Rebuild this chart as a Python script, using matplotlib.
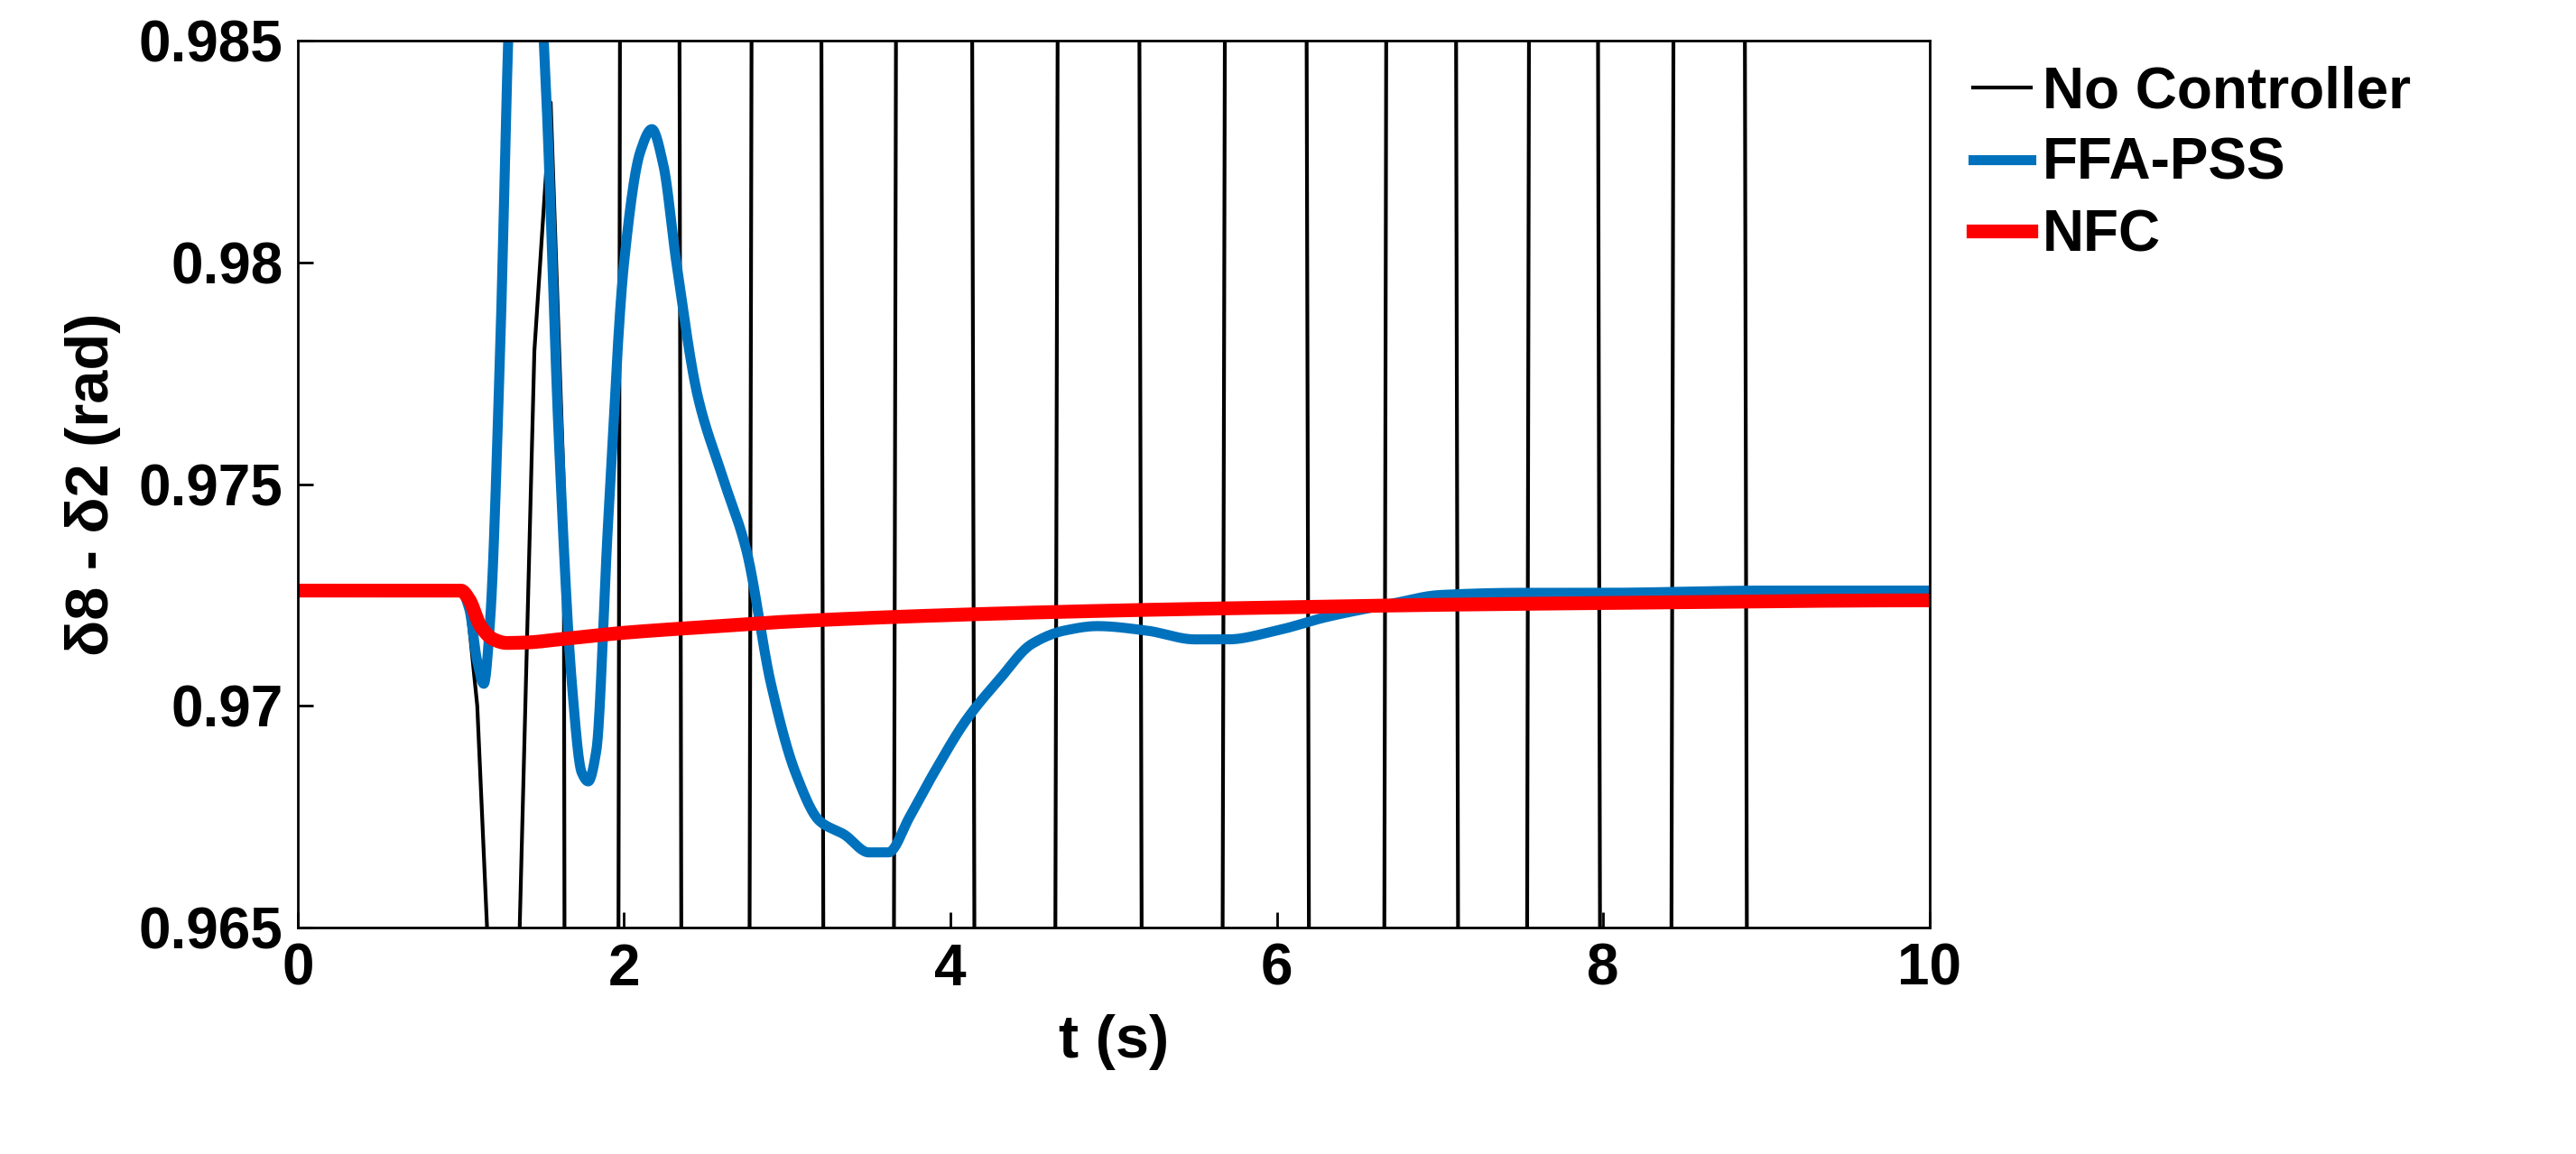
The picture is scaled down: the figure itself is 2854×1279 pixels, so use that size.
import numpy as np
import matplotlib
matplotlib.use("Agg")
import matplotlib.pyplot as plt

# No Controller (extremes; large swings leave the visible range)
nc_t = [0, 1.0, 1.04, 1.10, 1.16, 1.25, 1.34, 1.36, 1.45, 1.55, 1.63, 1.80, 2.14, 2.55, 3.00, 3.43, 3.89, 4.39, 4.91, 5.42, 5.93, 6.45, 6.88, 7.33, 7.75, 8.20, 8.65, 9.1, 10]
nc_v = [0.9726, 0.9726, 0.9722, 0.970, 0.965, 0.90, 0.95, 0.965, 0.978, 0.9836, 0.975, 0.60, 1.35, 0.60, 1.35, 0.60, 1.35, 0.60, 1.35, 0.60, 1.35, 0.60, 1.35, 0.60, 1.35, 0.60, 1.35, 0.60, 0.60]

# FFA-PSS
ffa_t = [0, 1.0, 1.05, 1.10, 1.14, 1.18, 1.24, 1.30, 1.38, 1.46, 1.52, 1.60, 1.68, 1.74, 1.78, 1.83, 1.90, 2.00, 2.10, 2.17, 2.24, 2.32, 2.45, 2.60, 2.75, 2.90, 3.05, 3.20, 3.35, 3.50, 3.62, 3.75, 3.90, 4.10, 4.30, 4.50, 4.70, 4.90, 5.20, 5.50, 5.70, 6.00, 6.30, 6.70, 7.00, 7.50, 8.00, 9.00, 10]
ffa_v = [0.9726, 0.9726, 0.9722, 0.9710, 0.9705, 0.9720, 0.978, 0.986, 0.990, 0.988, 0.984, 0.976, 0.9705, 0.9685, 0.9683, 0.9690, 0.9740, 0.9800, 0.9825, 0.9830, 0.9822, 0.9800, 0.9770, 0.9752, 0.9735, 0.9705, 0.9685, 0.9674, 0.9671, 0.9667, 0.9667, 0.9675, 0.9685, 0.9697, 0.9706, 0.9714, 0.9717, 0.9718, 0.9717, 0.9715, 0.9715, 0.9717, 0.9720, 0.9723, 0.9725, 0.97255, 0.97255, 0.9726, 0.9726]

# NFC
nfc_t = [0, 1.0, 1.05, 1.12, 1.20, 1.28, 1.40, 1.60, 2.0, 2.5, 3.0, 4.0, 5.0, 6.0, 7.0, 8.0, 10]
nfc_v = [0.9726, 0.9726, 0.9724, 0.9718, 0.9715, 0.97142, 0.97143, 0.97150, 0.97165, 0.97178, 0.97190, 0.97205, 0.97215, 0.97222, 0.97228, 0.97232, 0.97238]

def smooth(t, v, n=4000):
    # monotone cubic (PCHIP-like) through the read points
    t = np.asarray(t, float); v = np.asarray(v, float)
    h = np.diff(t); d = np.diff(v) / h
    m = np.zeros_like(v)
    for k in range(1, len(v) - 1):
        if d[k-1] * d[k] > 0:
            w1 = 2*h[k] + h[k-1]; w2 = h[k] + 2*h[k-1]
            m[k] = (w1 + w2) / (w1 / d[k-1] + w2 / d[k])
    x = np.linspace(t[0], t[-1], n)
    idx = np.clip(np.searchsorted(t, x) - 1, 0, len(t) - 2)
    hh = t[idx + 1] - t[idx]
    s = (x - t[idx]) / hh
    h00 = 2*s**3 - 3*s**2 + 1; h10 = s**3 - 2*s**2 + s
    h01 = -2*s**3 + 3*s**2; h11 = s**3 - s**2
    y = h00*v[idx] + h10*hh*m[idx] + h01*v[idx+1] + h11*hh*m[idx+1]
    return x, y

plt.rcParams['font.family'] = ['Liberation Sans', 'DejaVu Sans']
plt.rcParams['font.weight'] = 'bold'
fig = plt.figure(figsize=(28.54, 12.79), dpi=100)
ax = fig.add_axes([0.1156, 0.196, 0.6334, 0.769])

ax.plot(nc_t, nc_v, color='black', lw=3, label='No Controller')
x, y = smooth(ffa_t, ffa_v)
ax.plot(x, y, color='#0072BD', lw=8, label='FFA-PSS')
x, y = smooth(nfc_t, nfc_v)
ax.plot(x, y, color='#FF0000', lw=11, label='NFC')

ax.set_xlim(0, 10)
ax.set_ylim(0.965, 0.985)
ax.set_xticks([0, 2, 4, 6, 8, 10])
ax.set_yticks([0.965, 0.97, 0.975, 0.98, 0.985])
ax.set_yticklabels(['0.965', '0.97', '0.975', '0.98', '0.985'])
ax.tick_params(direction='in', length=12, width=2, labelsize=46, pad=12)
for sp in ax.spines.values():
    sp.set_linewidth(2)
ax.set_xlabel('t (s)', fontsize=48, fontweight='bold', labelpad=14)
ax.set_ylabel('δ8 - δ2 (rad)', fontsize=48, fontweight='bold', labelpad=14)
for lab in ax.get_xticklabels() + ax.get_yticklabels():
    lab.set_fontweight('bold')

leg = ax.legend(loc='upper left', bbox_to_anchor=(0.995, 1.03), frameon=False,
                fontsize=46, handlelength=1.0, handletextpad=0.2, labelspacing=0.3)
for t in leg.get_texts():
    t.set_fontweight('bold')

fig.savefig('out.png', dpi=100)
